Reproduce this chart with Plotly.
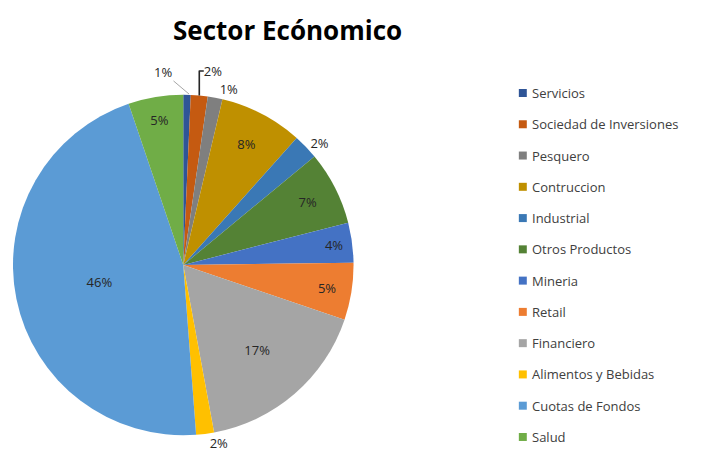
import math
import plotly.graph_objects as go

categories = ["Servicios", "Sociedad de Inversiones", "Pesquero", "Contruccion",
              "Industrial", "Otros Productos", "Mineria", "Retail", "Financiero",
              "Alimentos y Bebidas", "Cuotas de Fondos", "Salud"]
values = [0.7, 1.6, 1.4, 7.9, 2.4, 7.0, 3.8, 5.4, 16.9, 1.7, 46.0, 5.2]
colors = ["#2F5597", "#C55A11", "#7F7F7F", "#BF9000", "#3A78B5", "#548235",
          "#4472C4", "#ED7D31", "#A5A5A5", "#FFC000", "#5B9BD5", "#70AD47"]
# "side" = label placed beside the slice with a leader line (annotation)
text_pos = ["side", "outside", "outside", "inside", "outside", "inside",
            "inside", "inside", "inside", "outside", "inside", "inside"]

W, H = 706, 457
OFF = 8  # page body margin
fig = go.Figure()
cx = 181 - OFF
cy = 265 - OFF
R = 171
total = sum(values)
fig.add_trace(go.Pie(
    labels=categories, values=values, sort=False, direction="clockwise",
    rotation=0, marker=dict(colors=colors, line=dict(width=0)),
    texttemplate="%{percent:.0%}",
    textposition=["none" if p == "side" else p for p in text_pos],
    textfont=dict(family="Open Sans", size=13, color="#262626"),
    insidetextorientation="horizontal",
    showlegend=False, hoverinfo="label+percent",
    domain=dict(x=[(cx - R) / W, (cx + R) / W], y=[(H - cy - R) / H, (H - cy + R) / H]),
))

shapes, annotations = [], []

# side labels with leader lines, positioned from the slice angle
cum = 0.0
for v, p in zip(values, text_pos):
    if p == "side":
        theta = math.radians(360 * (cum + v / 2) / total)
        px = cx + 2 + R * math.sin(theta)
        py = cy - R * math.cos(theta)
        annotations.append(dict(text=f"{round(100 * v / total)}%", xref="paper", yref="paper",
                                x=px / W, y=(H - py) / H, ax=-26, ay=-22,
                                showarrow=True, arrowhead=0, arrowwidth=1,
                                arrowcolor="#A6A6A6",
                                font=dict(family="Open Sans", size=13, color="#262626")))
    cum += v

# legend
x0, y_first, step = 518 - OFF, 93 - OFF, 31.27
for i, (c, col) in enumerate(zip(categories, colors)):
    y = y_first + i * step
    shapes.append(dict(type="rect", xref="paper", yref="paper",
                       x0=x0 / W, x1=(x0 + 8) / W,
                       y0=(H - y - 4) / H, y1=(H - y + 4) / H,
                       fillcolor=col, line=dict(width=0)))
    annotations.append(dict(text=c, xref="paper", yref="paper",
                            x=(x0 + 11) / W, y=(H - y) / H,
                            xanchor="left", yanchor="middle", showarrow=False,
                            font=dict(family="Open Sans", size=13, color="#404040")))

annotations.append(dict(text="<b>Sector Ecónomico</b>", xref="paper", yref="paper",
                        x=(286 - OFF) / W, y=(H - 30 + OFF) / H, xanchor="center",
                        yanchor="middle", showarrow=False,
                        font=dict(family="Open Sans", size=26, color="#000000")))

fig.update_layout(width=W, height=H, margin=dict(l=0, r=0, t=0, b=0),
                  paper_bgcolor="white", plot_bgcolor="white",
                  shapes=shapes, annotations=annotations)
fig.write_html("out.html")
